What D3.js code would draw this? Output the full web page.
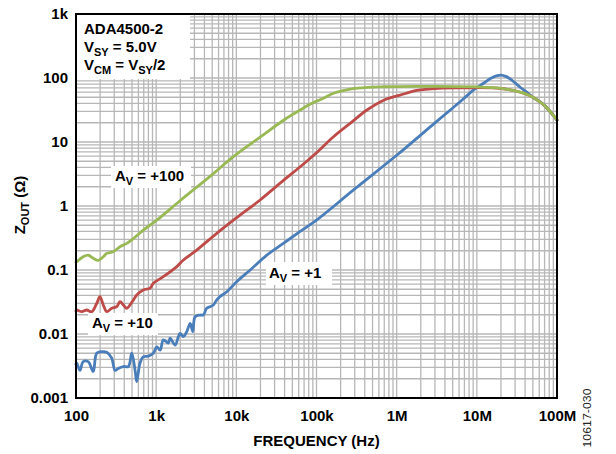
<!DOCTYPE html>
<html><head><meta charset="utf-8">
<script src="https://cdn.jsdelivr.net/npm/d3@7"></script>
<style>
body{margin:0;background:#fff}
text{font-family:Arial,"Liberation Sans",Helvetica,sans-serif}
</style>
</head><body>
<svg id="chart" width="616" height="454"></svg>
<script>
// ---- data ----
const xTickValues = [1e2, 1e3, 1e4, 1e5, 1e6, 1e7, 1e8];
const xTickLabels = ["100", "1k", "10k", "100k", "1M", "10M", "100M"];
const yTickValues = [0.001, 0.01, 0.1, 1, 10, 100, 1000];
const yTickLabels = ["0.001", "0.01", "0.1", "1", "10", "100", "1k"];

// [frequency Hz, Zout ohm]
const av1 = [
  [100,0.0034],[102,0.0035],[112,0.0027],[123,0.0037],[142,0.0037],[164,0.0026],[181,0.0050],
  [209,0.0053],[242,0.0052],[279,0.0042],[307,0.0027],[337,0.0029],[390,0.0031],
  [450,0.0031],[496,0.0050],[546,0.0027],[572,0.0018],[628,0.0035],[690,0.0044],
  [798,0.0045],[922,0.0050],[1018,0.0063],[1120,0.0056],[1230,0.0081],[1420,0.0072],
  [1490,0.0086],[1725,0.0067],[1895,0.0091],[1990,0.0102],[2185,0.0091],[2410,0.0109],
  [2660,0.0147],[2860,0.0109],[3060,0.0186],[3530,0.0198],[3880,0.0198],[4260,0.0252],
  [4700,0.0267],[5170,0.0284],[5700,0.034],[6240,0.0383],[7600,0.0458],[10100,0.0656],
  [14900,0.10],[24000,0.171],[38600,0.261],[62600,0.40],[100000,0.60],[300000,1.85],
  [1e6,6.2],[3e6,19.9],[5e6,34],[7e6,48.7],[9.1e6,65],[1.2e7,82],[1.5e7,99],
  [1.8e7,109],[2e7,111],[2.3e7,106],[2.6e7,97],[3e7,84],[3.5e7,71],[4.2e7,60],
  [5e7,50],[6e7,43],[7e7,37],[8e7,31],[9e7,26],[1e8,22]
];
const av10 = [
  [100,0.023],[102,0.0237],[118,0.0223],[136,0.0237],[157,0.0223],[181,0.030],[199,0.0383],
  [219,0.0284],[242,0.0223],[279,0.0252],[322,0.0267],[354,0.032],[390,0.0284],
  [430,0.0252],[472,0.0284],[520,0.034],[572,0.0407],[690,0.0487],[838,0.052],
  [922,0.062],[1230,0.0787],[1810,0.113],[2185,0.143],[3200,0.205],[5700,0.374],
  [10000,0.65],[19800,1.24],[40000,2.6],[62600,4.1],[100000,6.8],[163000,12.1],
  [263000,19.6],[426000,31.6],[690000,45],[1.1e6,54],[1.78e6,64],[3.4e6,69],
  [7.4e6,70],[1e7,70.5],[2e7,68.5],[3e7,63],[4e7,57],[5e7,50],[6e7,43],[7e7,37],
  [8e7,31],[9e7,26],[1e8,22]
];
const av100 = [
  [100,0.133],[102,0.135],[123,0.161],[142,0.171],[164,0.152],[190,0.141],[219,0.161],
  [242,0.182],[292,0.193],[354,0.231],[430,0.261],[496,0.295],[692,0.42],[1018,0.60],
  [2000,1.22],[5000,3.1],[9200,5.9],[20000,12],[40000,22.5],[62600,31.6],[83000,39],
  [120000,48],[163000,57.7],[263000,67],[426000,71.5],[700000,73],[1e6,73.5],[3e6,74],
  [6e6,73.5],[1e7,72.5],[1.5e7,71],[2e7,69],[3e7,63],[4e7,57],[5e7,50],[6e7,43],
  [7e7,37],[8e7,31],[9e7,26],[1e8,22]
];
const seriesColors = ["#4a7ebb", "#be4b48", "#98b954"];

// ---- drawing ----
const svg = d3.select("#chart");
const L = 76, R = 557, T = 14, B = 398;
const x = d3.scaleLog().domain([1e2, 1e8]).range([L, R]);
const y = d3.scaleLog().domain([1e-3, 1e3]).range([B, T]);

// grid
const grid = svg.append("g").attr("stroke", "#b7b7b7").attr("stroke-width", 1.3);
x.ticks().forEach(v => {
  grid.append("line").attr("x1", x(v)).attr("x2", x(v)).attr("y1", T).attr("y2", B);
});
y.ticks().forEach(v => {
  grid.append("line").attr("y1", y(v)).attr("y2", y(v)).attr("x1", L).attr("x2", R);
});

// curves
const line = d3.line().x(d => x(d[0])).y(d => y(d[1])).curve(d3.curveCatmullRom.alpha(0.5));
[av1, av10, av100].forEach((s, i) => {
  svg.append("path").datum(s).attr("d", line)
    .attr("fill", "none").attr("stroke", seriesColors[i])
    .attr("stroke-width", 2.8).attr("stroke-linejoin", "round").attr("stroke-linecap", "round");
});

// frame
svg.append("rect").attr("x", L).attr("y", T).attr("width", R - L).attr("height", B - T)
  .attr("fill", "none").attr("stroke", "#000").attr("stroke-width", 2);

// axes (labels only)
const xAxis = svg.append("g").attr("transform", `translate(0,${B})`)
  .call(d3.axisBottom(x).tickValues(xTickValues).tickSize(0).tickPadding(12)
    .tickFormat((d, i) => xTickLabels[i]));
xAxis.select(".domain").remove();
xAxis.selectAll("text").attr("font-size", 15).attr("font-weight", "bold").attr("fill", "#000")
  .attr("font-family", "Arial, 'Liberation Sans', sans-serif");

const yAxis = svg.append("g").attr("transform", `translate(${L},0)`)
  .call(d3.axisLeft(y).tickValues(yTickValues).tickSize(0).tickPadding(8)
    .tickFormat((d, i) => yTickLabels[i]));
yAxis.select(".domain").remove();
yAxis.selectAll("text").attr("font-size", 15).attr("font-weight", "bold").attr("fill", "#000")
  .attr("font-family", "Arial, 'Liberation Sans', sans-serif");

// axis titles
svg.append("text").attr("x", (L + R) / 2).attr("y", 446).attr("text-anchor", "middle")
  .attr("font-size", 15).attr("font-weight", "bold").text("FREQUENCY (Hz)");

const yt = svg.append("text").attr("transform", "translate(25,205) rotate(-90)")
  .attr("text-anchor", "middle").attr("font-size", 15).attr("font-weight", "bold");
yt.append("tspan").text("Z");
yt.append("tspan").attr("font-size", 11).attr("dy", 4).text("OUT");
yt.append("tspan").attr("dy", -4).text(" (Ω)");

svg.append("text").attr("transform", "translate(591,418) rotate(-90)")
  .attr("text-anchor", "middle").attr("font-size", 10.5).attr("fill", "#222")
  .attr("textLength", 59).attr("lengthAdjust", "spacingAndGlyphs").text("10617-030");

// annotation boxes
function label(bx, by, bw, bh, tx, ty, parts) {
  svg.append("rect").attr("x", bx).attr("y", by).attr("width", bw).attr("height", bh).attr("fill", "#fff");
  const t = svg.append("text").attr("x", tx).attr("y", ty).attr("font-size", 15).attr("font-weight", "bold");
  parts.forEach(p => {
    const s = t.append("tspan").text(p[0]);
    if (p[1] === "sub") s.attr("font-size", 11).attr("dy", 4);
    if (p[1] === "up") s.attr("dy", -4);
  });
}
// title box
svg.append("rect").attr("x", L + 1).attr("y", T + 1).attr("width", 113).attr("height", 64).attr("fill", "#fff");
svg.append("text").attr("x", 84).attr("y", 34).attr("font-size", 15).attr("font-weight", "bold").text("ADA4500-2");
(function () {
  const t = svg.append("text").attr("x", 84).attr("y", 52).attr("font-size", 15).attr("font-weight", "bold");
  t.append("tspan").text("V");
  t.append("tspan").attr("font-size", 11).attr("dy", 4).text("SY");
  t.append("tspan").attr("dy", -4).text(" = 5.0V");
  const t2 = svg.append("text").attr("x", 84).attr("y", 70).attr("font-size", 15).attr("font-weight", "bold");
  t2.append("tspan").text("V");
  t2.append("tspan").attr("font-size", 11).attr("dy", 4).text("CM");
  t2.append("tspan").attr("dy", -4).text(" = V");
  t2.append("tspan").attr("font-size", 11).attr("dy", 4).text("SY");
  t2.append("tspan").attr("dy", -4).text("/2");
})();
label(111, 166, 80, 22, 115, 181, [["A"], ["V", "sub"], [" = +100", "up"]]);
label(88, 313, 70, 22, 92, 328, [["A"], ["V", "sub"], [" = +10", "up"]]);
label(266, 262, 66, 23, 269, 277.5, [["A"], ["V", "sub"], [" = +1", "up"]]);
</script>
</body></html>
